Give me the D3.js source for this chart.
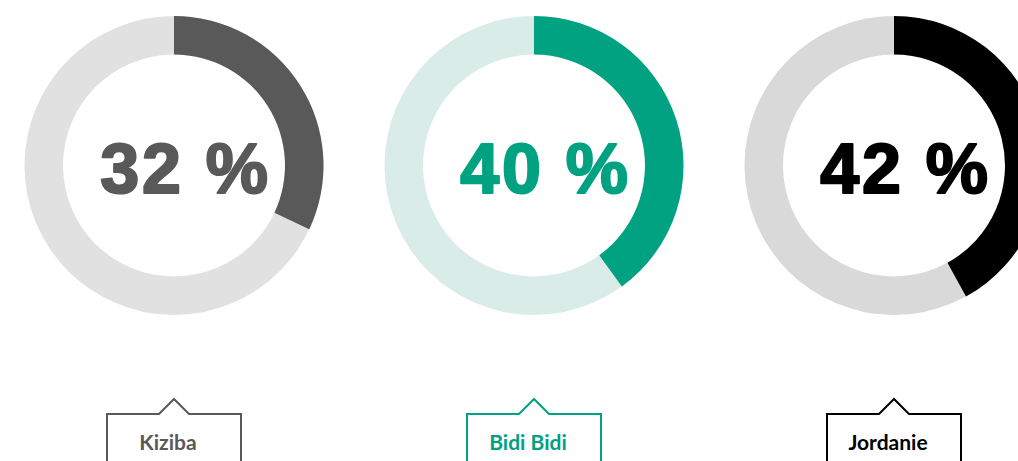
<!DOCTYPE html>
<html>
<head>
<meta charset="utf-8">
<script src="https://cdn.jsdelivr.net/npm/d3@7"></script>
<style>
  html, body { margin: 0; padding: 0; background: #fff; }
  svg { display: block; }
</style>
</head>
<body>
<svg id="chart" width="1018" height="461"></svg>
<script>
// ---- data ----
const categories = ["Kiziba", "Bidi Bidi", "Jordanie"];
const values = [32, 40, 42];           // percent
const valueLabels = ["32 %", "40 %", "42 %"];
const mainColors = ["#595959", "#00a281", "#000000"];
const trackColors = ["#e1e1e1", "#d9ece7", "#d9d9d9"];

// ---- layout ----
const W = 1018, H = 461;
const cy = 165.5, rOuter = 149.5, rInner = 111;
const svg = d3.select("#chart");

const x = d3.scalePoint().domain(categories).range([174, 894]);
const angle = d3.scaleLinear().domain([0, 100]).range([0, 2 * Math.PI]);
const arc = d3.arc().innerRadius(rInner).outerRadius(rOuter);

const g = svg.selectAll("g.donut")
  .data(categories.map((c, i) => ({ c, i, v: values[i] })))
  .join("g")
  .attr("class", "donut")
  .attr("transform", d => `translate(${x(d.c)},${cy})`);

g.append("path")
  .attr("d", () => arc({ startAngle: 0, endAngle: 2 * Math.PI }))
  .attr("fill", d => trackColors[d.i]);

g.append("path")
  .attr("d", d => arc({ startAngle: 0, endAngle: angle(d.v) }))
  .attr("fill", d => mainColors[d.i]);

g.append("text")
  .attr("x", 11.5)
  .attr("y", 27.5)
  .attr("text-anchor", "middle")
  .attr("font-family", "'Liberation Sans', Arial, sans-serif")
  .attr("font-weight", "bold")
  .attr("font-size", 70)
  .attr("letter-spacing", 2.7)
  .attr("fill", d => mainColors[d.i])
  .attr("stroke", d => mainColors[d.i])
  .attr("stroke-width", 2.2)
  .attr("stroke-linejoin", "round")
  .text(d => valueLabels[d.i]);

// ---- labels with notched boxes ----
const boxTop = 414, notchH = 15, notchW = 15;
const lab = svg.selectAll("g.lab")
  .data(categories.map((c, i) => ({ c, i })))
  .join("g")
  .attr("class", "lab")
  .attr("transform", d => `translate(${x(d.c)},0)`);

lab.append("path")
  .attr("d", () => {
    const p = d3.path();
    p.moveTo(-67, H + 10);
    p.lineTo(-67, boxTop);
    p.lineTo(-notchW, boxTop);
    p.lineTo(0, boxTop - notchH);
    p.lineTo(notchW, boxTop);
    p.lineTo(67, boxTop);
    p.lineTo(67, H + 10);
    return p.toString();
  })
  .attr("fill", "#fff")
  .attr("stroke", d => mainColors[d.i])
  .attr("stroke-width", 2);

lab.append("text")
  .attr("x", -6)
  .attr("y", 450)
  .attr("text-anchor", "middle")
  .attr("font-family", "Lato, 'Open Sans', sans-serif")
  .attr("font-weight", "bold")
  .attr("font-size", 21)
  .attr("fill", d => mainColors[d.i])
  .text(d => d.c);
</script>
</body>
</html>
